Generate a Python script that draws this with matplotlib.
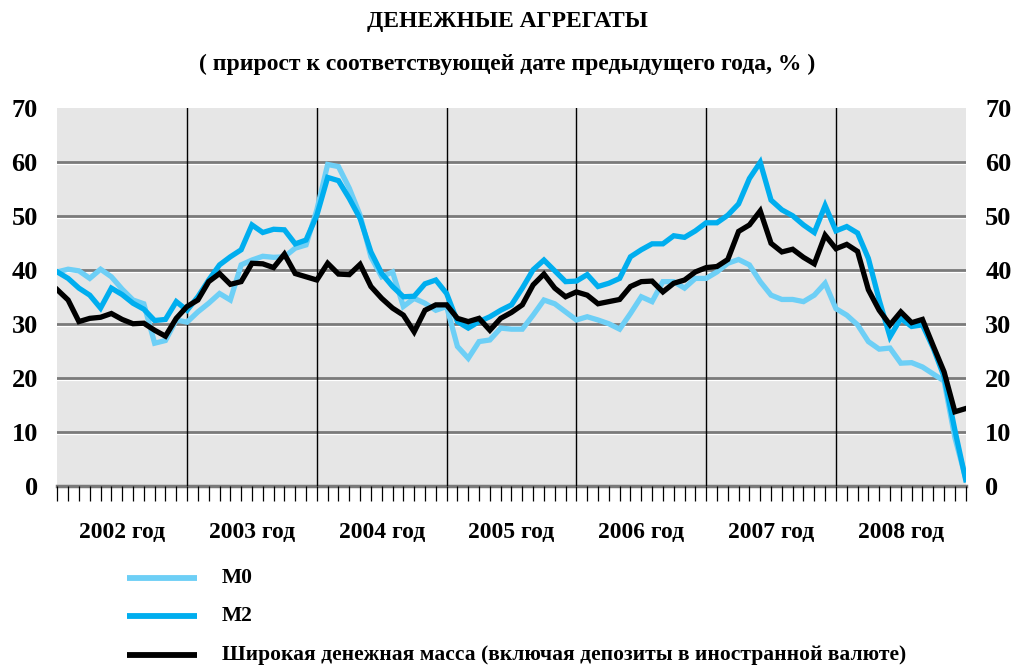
import matplotlib
matplotlib.use("Agg")
import matplotlib.pyplot as plt
import numpy as np

# ---- data (monthly, Jan 2002 .. Jan 2009), growth y/y, % ----
years = ["2002 год", "2003 год", "2004 год", "2005 год", "2006 год", "2007 год", "2008 год"]

m0 = [39.7, 40.2, 39.9, 38.5, 40.2, 38.8, 36.5, 34.5, 33.8, 26.5, 27.0, 30.8,
      30.4, 32.3, 33.9, 35.7, 34.5, 41.0, 41.9, 42.6, 42.4, 42.5, 44.1, 44.7,
      51.2, 59.6, 59.2, 55.2, 50.2, 42.5, 38.8, 39.7, 33.3, 34.8, 33.9, 32.6,
      33.3, 25.9, 23.7, 26.8, 27.1, 29.3, 29.1, 29.1, 31.7, 34.5, 33.8, 32.3,
      30.8, 31.4, 30.8, 30.1, 29.1, 32.0, 35.1, 34.2, 37.9, 37.9, 36.7, 38.5,
      38.5, 39.7, 41.3, 42.0, 41.0, 37.9, 35.4, 34.6, 34.6, 34.2, 35.4, 37.6,
      32.9, 31.7, 29.9, 26.8, 25.4, 25.6, 22.8, 22.9, 22.1, 20.8, 19.5, 9.0,
      1.5]

m2 = [39.7, 38.5, 36.7, 35.4, 33.0, 36.7, 35.5, 33.9, 32.8, 30.7, 30.9, 34.2,
      32.6, 35.1, 38.2, 41.0, 42.5, 43.8, 48.4, 47.0, 47.6, 47.5, 44.9, 45.6,
      50.2, 57.2, 56.6, 53.3, 49.6, 43.4, 39.4, 37.0, 35.1, 35.2, 37.5, 38.2,
      35.7, 30.5, 29.3, 30.5, 31.4, 32.6, 33.6, 36.7, 40.1, 41.9, 39.9, 37.9,
      38.0, 39.2, 37.0, 37.6, 38.5, 42.5, 43.8, 44.9, 44.9, 46.4, 46.1, 47.3,
      48.8, 48.8, 50.2, 52.3, 57.0, 60.0, 53.0, 51.2, 50.1, 48.4, 47.0, 52.0,
      47.3, 48.1, 46.9, 42.2, 34.5, 27.7, 31.1, 29.6, 29.9, 25.6, 20.3, 10.4,
      1.2]

broad = [36.4, 34.5, 30.5, 31.1, 31.3, 32.0, 30.9, 30.1, 30.2, 28.9, 27.8, 31.1,
         33.3, 34.5, 37.9, 39.4, 37.4, 37.9, 41.3, 41.2, 40.5, 43.0, 39.4, 38.8,
         38.2, 41.3, 39.3, 39.2, 41.1, 37.0, 34.8, 33.0, 31.7, 28.6, 32.6, 33.6,
         33.6, 31.1, 30.5, 31.1, 28.9, 31.1, 32.2, 33.6, 37.3, 39.3, 36.7, 35.1,
         36.0, 35.4, 33.8, 34.2, 34.6, 37.0, 37.9, 38.0, 36.0, 37.6, 38.2, 39.7,
         40.5, 40.7, 42.0, 47.2, 48.4, 51.0, 45.0, 43.4, 43.9, 42.4, 41.2, 46.5,
         44.0, 44.8, 43.5, 36.4, 32.6, 29.9, 32.3, 30.3, 30.9, 26.0, 21.2, 13.8,
         14.4]

labels = ["M0", "M2", "Широкая денежная масса (включая депозиты в иностранной валюте)"]
yticks = [0, 10, 20, 30, 40, 50, 60, 70]

FONT = ["Liberation Serif", "DejaVu Serif"]
C_M0 = "#6dcff6"
C_M2 = "#00aeef"
C_BR = "#000000"

fig = plt.figure(figsize=(10.15, 6.68), dpi=100)
ax = fig.add_axes([57.3 / 1015, 1 - 486.3 / 668, 908.4 / 1015, 378.0 / 668])
ax.set_facecolor("#e6e6e6")

x = np.arange(len(m0))
n_months = len(m0) - 1

# horizontal grid with white highlight below
for v in yticks[1:-1]:
    ax.axhline(v - 0.36, color="white", lw=1.6, zorder=1)
    ax.axhline(v, color="#7a7a7a", lw=2.0, zorder=1.1)
ax.axhline(0, color="#7a7a7a", lw=2.5, zorder=1.1, clip_on=False)

# year separators
for k in range(1, len(years)):
    ax.axvline(12 * k, color="black", lw=1.0, zorder=2)

ax.plot(x, m0, color=C_M0, lw=3.8, zorder=3, solid_joinstyle="miter", label=labels[0])
ax.plot(x, m2, color=C_M2, lw=3.8, zorder=4, solid_joinstyle="miter", label=labels[1])
ax.plot(x, broad, color=C_BR, lw=3.8, zorder=5, solid_joinstyle="miter", label=labels[2])

ax.set_xlim(0, n_months)
ax.set_ylim(0, 70)
for s in ax.spines.values():
    s.set_visible(False)

ax.set_xticks(np.arange(0, n_months + 1))
ax.set_xticklabels([])
ax.tick_params(axis="x", direction="out", length=11, width=0.9, color="black")

ax.set_yticks(yticks)
ax.set_yticklabels([str(v) for v in yticks])
ax.tick_params(axis="y", length=0, pad=14, labelright=True, labelleft=True)
for lab in ax.get_yticklabels():
    lab.set_family(FONT)
    lab.set_fontweight("bold")
    lab.set_fontsize(19)

# year labels
for k, yl in enumerate(years):
    ax.text(12 * k + 6, -8.6, yl, ha="center", va="center", family=FONT,
            fontweight="bold", fontsize=17, transform=ax.transData)

# titles
fig.text(0.5, 1 - 22 / 668, "ДЕНЕЖНЫЕ АГРЕГАТЫ", ha="center", va="center",
         family=FONT, fontweight="bold", fontsize=17)
fig.text(0.5, 1 - 64 / 668, "( прирост к соответствующей дате предыдущего года, % )",
         ha="center", va="center", family=FONT, fontweight="bold", fontsize=17)

# legend (manual, figure coords)
leg_y = [578, 616, 655]
for ly, col, lab in zip(leg_y, [C_M0, C_M2, C_BR], labels):
    fig.add_artist(plt.Line2D([127 / 1015, 197 / 1015], [1 - ly / 668, 1 - ly / 668],
                              color=col, lw=4.2, solid_capstyle="butt"))
    fig.text(222 / 1015, 1 - ly / 668, lab, ha="left", va="center",
             family=FONT, fontweight="bold", fontsize=15.5)

fig.savefig("out.png", dpi=100, facecolor="white")
